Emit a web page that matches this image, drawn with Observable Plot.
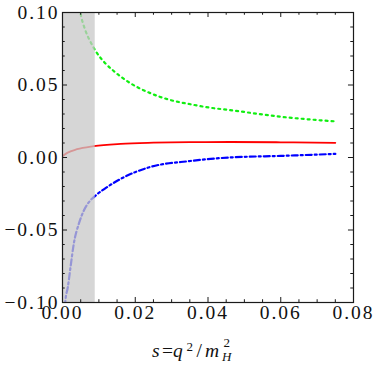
<!DOCTYPE html>
<html><head><meta charset="utf-8">
<script src="https://cdn.jsdelivr.net/npm/d3@7"></script>
<script src="https://cdn.jsdelivr.net/npm/@observablehq/plot@0.6"></script>
<style>
body{margin:0;background:#fff}
</style></head><body><div id="chart"></div>
<script>
// tick values
const xMajor = [0, 0.02, 0.04, 0.06, 0.08];
const xMinor = [0.005, 0.01, 0.015, 0.025, 0.03, 0.035, 0.045, 0.05, 0.055, 0.065, 0.07, 0.075];
const yMajor = [-0.1, -0.05, 0, 0.05, 0.1];
const yMinor = [-0.09, -0.08, -0.07, -0.06, -0.04, -0.03, -0.02, -0.01, 0.01, 0.02, 0.03, 0.04, 0.06, 0.07, 0.08, 0.09];
// shaded region in s
const bandS = [0, 0.009];
// green dotted curve
const greenS = [0.0047, 0.0051, 0.0063, 0.0077, 0.0094, 0.0116, 0.0140, 0.0187, 0.0242, 0.0297, 0.0352, 0.0407, 0.0460, 0.0600, 0.0750];
const greenV = [0.1030, 0.0977, 0.0876, 0.0797, 0.0723, 0.0654, 0.0598, 0.0512, 0.0443, 0.0396, 0.0367, 0.0343, 0.0327, 0.0281, 0.0249];
// red solid curve
const redS = [0, 0.0013, 0.004, 0.0086, 0.016, 0.025, 0.035, 0.046, 0.060, 0.075];
const redV = [0.0009, 0.0032, 0.0057, 0.0078, 0.0094, 0.0102, 0.0106, 0.0107, 0.0105, 0.0101];
// blue dash-dot curve
const blueS = [0.0007, 0.0008, 0.00146, 0.0022, 0.0031, 0.0045, 0.0059, 0.0077, 0.0094, 0.0123, 0.0158, 0.0242, 0.0352, 0.0458, 0.060, 0.075];
const blueV = [-0.1030, -0.0987, -0.0895, -0.0757, -0.0595, -0.0456, -0.0364, -0.0295, -0.0256, -0.0203, -0.0150, -0.0065, -0.0024, 0.0000, 0.0011, 0.0025];

const zip = (s, v) => s.map((d, i) => ({s: d, v: v[i]}));
const green = zip(greenS, greenV), red = zip(redS, redV), blue = zip(blueS, blueV);
const band = [{x1: bandS[0], x2: bandS[1]}];

const fmt = d => (d < 0 ? "\u2212" : "") + Math.abs(d).toFixed(2);
const tk = "#1a1a1a";
const ff = "Liberation Serif";

const xMaj = 0.00138, xMin = 0.00075, yMaj = 0.00345, yMin = 0.0019;
const lab = {frameAnchor: "bottom", text: d => d, textAnchor: "start", fontFamily: ff, fill: "#111"};

const chart = Plot.plot({
  width: 374, height: 369,
  marginLeft: 62, marginRight: 21, marginTop: 12, marginBottom: 67,
  style: {fontFamily: ff, fontSize: "19px", background: "white"},
  x: {domain: [0, 0.08], axis: null},
  y: {domain: [-0.1, 0.1], axis: null},
  marks: [
    Plot.line(green, {x: "s", y: "v", stroke: "#11ee11", strokeWidth: 2.2, strokeDasharray: "2,4", curve: "monotone-x", clip: true}),
    Plot.line(red, {x: "s", y: "v", stroke: "#ff0000", strokeWidth: 1.8, curve: "monotone-x", clip: true}),
    Plot.line(blue, {x: "s", y: "v", stroke: "#0000ff", strokeWidth: 2.2, strokeDasharray: "6,3,2,3", curve: "monotone-x", clip: true}),
    Plot.rect(band, {x1: "x1", x2: "x2", y1: -0.1, y2: 0.1, fill: "#c8c8c8", fillOpacity: 0.75}),
    // ticks, inward, all four sides
    Plot.ruleX(xMajor, {x: d => d, y1: -0.1, y2: -0.1 + yMaj, stroke: tk}),
    Plot.ruleX(xMajor, {x: d => d, y1: 0.1, y2: 0.1 - yMaj, stroke: tk}),
    Plot.ruleX(xMinor, {x: d => d, y1: -0.1, y2: -0.1 + yMin, stroke: tk}),
    Plot.ruleX(xMinor, {x: d => d, y1: 0.1, y2: 0.1 - yMin, stroke: tk}),
    Plot.ruleY(yMajor, {y: d => d, x1: 0, x2: xMaj, stroke: tk}),
    Plot.ruleY(yMajor, {y: d => d, x1: 0.08, x2: 0.08 - xMaj, stroke: tk}),
    Plot.ruleY(yMinor, {y: d => d, x1: 0, x2: xMin, stroke: tk}),
    Plot.ruleY(yMinor, {y: d => d, x1: 0.08, x2: 0.08 - xMin, stroke: tk}),
    Plot.frame({stroke: tk, strokeWidth: 1.2}),
    Plot.axisX(xMajor, {anchor: "bottom", label: null, tickSize: 0, tickPadding: 3, tickFormat: fmt, fill: "#111", fontSize: 19.5, fontFamily: ff}),
    Plot.axisY(yMajor, {anchor: "left", label: null, tickSize: 0, tickPadding: 3, tickFormat: fmt, fill: "#111", fontSize: 19.5, fontFamily: ff}),
    // axis title  s = q^2 / m_H^2
    Plot.text(["s"], {...lab, dx: -56, dy: 54, fontStyle: "italic", fontSize: 19.5}),
    Plot.text(["="], {...lab, dx: -46, dy: 54, fontSize: 19.5}),
    Plot.text(["q"], {...lab, dx: -35, dy: 54, fontStyle: "italic", fontSize: 19.5}),
    Plot.text(["2"], {...lab, dx: -21.5, dy: 48, fontSize: 13}),
    Plot.text(["/"], {...lab, dx: -11.5, dy: 54, fontSize: 19.5}),
    Plot.text(["m"], {...lab, dx: -3, dy: 54, fontStyle: "italic", fontSize: 19.5}),
    Plot.text(["2"], {...lab, dx: 15.5, dy: 44, fontSize: 13}),
    Plot.text(["H"], {...lab, dx: 14, dy: 58, fontStyle: "italic", fontSize: 13})
  ]
});
d3.select(chart).selectAll("text").attr("letter-spacing", "2px").style("letter-spacing", "2px");
document.getElementById("chart").appendChild(chart);
</script></body></html>
